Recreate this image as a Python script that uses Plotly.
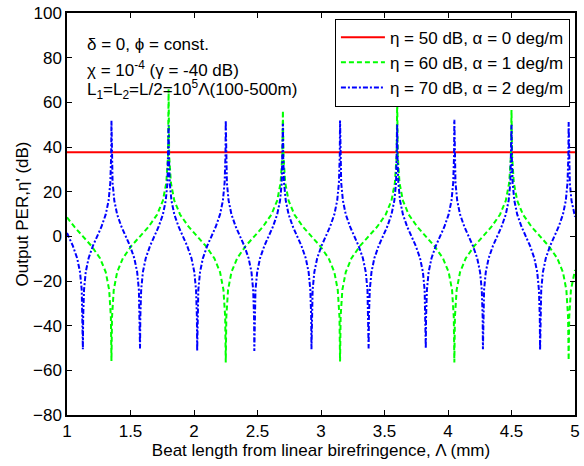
import plotly.graph_objects as go

# ---- data ----
red_x = [1.0, 5.0]
red_y = [37.6, 37.6]

green_x = [
    1.0, 1.0575, 1.125, 1.1925, 1.26, 1.305, 1.332, 1.3455,
    1.35, 1.3545, 1.368, 1.395, 1.44, 1.5075, 1.575, 1.6425, 1.71, 1.755, 1.782, 1.7955,
    1.8, 1.8045, 1.818, 1.845, 1.89, 1.9575, 2.025, 2.0925, 2.16, 2.205, 2.232, 2.2455,
    2.25, 2.2545, 2.268, 2.295, 2.34, 2.4075, 2.475, 2.5425, 2.61, 2.655, 2.682, 2.6955,
    2.7, 2.7045, 2.718, 2.745, 2.79, 2.8575, 2.925, 2.9925, 3.06, 3.105, 3.132, 3.1455,
    3.15, 3.1545, 3.168, 3.195, 3.24, 3.3075, 3.375, 3.4425, 3.51, 3.555, 3.582, 3.5955,
    3.6, 3.6045, 3.618, 3.645, 3.69, 3.7575, 3.825, 3.8925, 3.96, 4.005, 4.032, 4.0455,
    4.05, 4.0545, 4.068, 4.095, 4.14, 4.2075, 4.275, 4.3425, 4.41, 4.455, 4.482, 4.4955,
    4.5, 4.5045, 4.518, 4.545, 4.59, 4.6575, 4.725, 4.7925, 4.86, 4.905, 4.932, 4.9455,
    4.95, 4.9545, 4.968, 4.995, 5.0,
]
green_y = [
    8.5, 4.3, 0.0, -4.3, -9.8, -16.0, -24.0, -36.1,
    -55.8, -36.1, -24.0, -16.0, -9.8, -4.3, 0.0, 4.3, 9.8, 16.0, 24.0, 36.1,
    65.9, 36.1, 24.0, 16.0, 9.8, 4.3, 0.0, -4.3, -9.8, -16.0, -24.0, -36.1,
    -56.5, -36.1, -24.0, -16.0, -9.8, -4.3, 0.0, 4.3, 9.8, 16.0, 24.0, 36.1,
    56.3, 36.1, 24.0, 16.0, 9.8, 4.3, 0.0, -4.3, -9.8, -16.0, -24.0, -36.1,
    -56.0, -36.1, -24.0, -16.0, -9.8, -4.3, 0.0, 4.3, 9.8, 16.0, 24.0, 36.1,
    60.8, 36.1, 24.0, 16.0, 9.8, 4.3, 0.0, -4.3, -9.8, -16.0, -24.0, -36.1,
    -56.5, -36.1, -24.0, -16.0, -9.8, -4.3, 0.0, 4.3, 9.8, 16.0, 24.0, 36.1,
    56.6, 36.1, 24.0, 16.0, 9.8, 4.3, 0.0, -4.3, -9.8, -16.0, -24.0, -36.1,
    -55.5, -36.1, -24.0, -16.0, -15.1,
]

blue_x = [
    1.0, 1.0462, 1.08, 1.1025, 1.116, 1.1227,
    1.125, 1.1273, 1.134, 1.1475, 1.17, 1.2038, 1.2375, 1.2713, 1.305, 1.3275, 1.341, 1.3478,
    1.35, 1.3523, 1.359, 1.3725, 1.395, 1.4288, 1.4625, 1.4963, 1.53, 1.5525, 1.566, 1.5728,
    1.575, 1.5773, 1.584, 1.5975, 1.62, 1.6538, 1.6875, 1.7213, 1.755, 1.7775, 1.791, 1.7978,
    1.8, 1.8023, 1.809, 1.8225, 1.845, 1.8788, 1.9125, 1.9463, 1.98, 2.0025, 2.016, 2.0228,
    2.025, 2.0273, 2.034, 2.0475, 2.07, 2.1038, 2.1375, 2.1713, 2.205, 2.2275, 2.241, 2.2478,
    2.25, 2.2523, 2.259, 2.2725, 2.295, 2.3288, 2.3625, 2.3963, 2.43, 2.4525, 2.466, 2.4728,
    2.475, 2.4773, 2.484, 2.4975, 2.52, 2.5538, 2.5875, 2.6213, 2.655, 2.6775, 2.691, 2.6978,
    2.7, 2.7023, 2.709, 2.7225, 2.745, 2.7788, 2.8125, 2.8463, 2.88, 2.9025, 2.916, 2.9228,
    2.925, 2.9273, 2.934, 2.9475, 2.97, 3.0038, 3.0375, 3.0713, 3.105, 3.1275, 3.141, 3.1478,
    3.15, 3.1523, 3.159, 3.1725, 3.195, 3.2288, 3.2625, 3.2963, 3.33, 3.3525, 3.366, 3.3728,
    3.375, 3.3773, 3.384, 3.3975, 3.42, 3.4538, 3.4875, 3.5213, 3.555, 3.5775, 3.591, 3.5978,
    3.6, 3.6023, 3.609, 3.6225, 3.645, 3.6788, 3.7125, 3.7463, 3.78, 3.8025, 3.816, 3.8228,
    3.825, 3.8273, 3.834, 3.8475, 3.87, 3.9038, 3.9375, 3.9713, 4.005, 4.0275, 4.041, 4.0478,
    4.05, 4.0523, 4.059, 4.0725, 4.095, 4.1288, 4.1625, 4.1963, 4.23, 4.2525, 4.266, 4.2728,
    4.275, 4.2773, 4.284, 4.2975, 4.32, 4.3538, 4.3875, 4.4213, 4.455, 4.4775, 4.491, 4.4978,
    4.5, 4.5023, 4.509, 4.5225, 4.545, 4.5788, 4.6125, 4.6463, 4.68, 4.7025, 4.716, 4.7228,
    4.725, 4.7273, 4.734, 4.7475, 4.77, 4.8038, 4.8375, 4.8713, 4.905, 4.9275, 4.941, 4.9478,
    4.95, 4.9523, 4.959, 4.9725, 4.995, 5.0,
]
blue_y = [
    1.5, -4.3, -9.8, -16.0, -24.0, -36.1,
    -50.6, -36.1, -24.0, -16.0, -9.8, -4.3, 0.0, 4.3, 9.8, 16.0, 24.0, 36.1,
    51.9, 36.1, 24.0, 16.0, 9.8, 4.3, 0.0, -4.3, -9.8, -16.0, -24.0, -36.1,
    -50.2, -36.1, -24.0, -16.0, -9.8, -4.3, 0.0, 4.3, 9.8, 16.0, 24.0, 36.1,
    49.7, 36.1, 24.0, 16.0, 9.8, 4.3, 0.0, -4.3, -9.8, -16.0, -24.0, -36.1,
    -51.3, -36.1, -24.0, -16.0, -9.8, -4.3, 0.0, 4.3, 9.8, 16.0, 24.0, 36.1,
    51.9, 36.1, 24.0, 16.0, 9.8, 4.3, 0.0, -4.3, -9.8, -16.0, -24.0, -36.1,
    -51.3, -36.1, -24.0, -16.0, -9.8, -4.3, 0.0, 4.3, 9.8, 16.0, 24.0, 36.1,
    50.4, 36.1, 24.0, 16.0, 9.8, 4.3, 0.0, -4.3, -9.8, -16.0, -24.0, -36.1,
    -50.6, -36.1, -24.0, -16.0, -9.8, -4.3, 0.0, 4.3, 9.8, 16.0, 24.0, 36.1,
    51.9, 36.1, 24.0, 16.0, 9.8, 4.3, 0.0, -4.3, -9.8, -16.0, -24.0, -36.1,
    -50.2, -36.1, -24.0, -16.0, -9.8, -4.3, 0.0, 4.3, 9.8, 16.0, 24.0, 36.1,
    50.1, 36.1, 24.0, 16.0, 9.8, 4.3, 0.0, -4.3, -9.8, -16.0, -24.0, -36.1,
    -50.2, -36.1, -24.0, -16.0, -9.8, -4.3, 0.0, 4.3, 9.8, 16.0, 24.0, 36.1,
    52.2, 36.1, 24.0, 16.0, 9.8, 4.3, 0.0, -4.3, -9.8, -16.0, -24.0, -36.1,
    -50.6, -36.1, -24.0, -16.0, -9.8, -4.3, 0.0, 4.3, 9.8, 16.0, 24.0, 36.1,
    50.0, 36.1, 24.0, 16.0, 9.8, 4.3, 0.0, -4.3, -9.8, -16.0, -24.0, -36.1,
    -51.0, -36.1, -24.0, -16.0, -9.8, -4.3, 0.0, 4.3, 9.8, 16.0, 24.0, 36.1,
    51.2, 36.1, 24.0, 16.0, 9.8, 8.8,
]

series_names = [
    "η = 50 dB, α = 0 deg/m",
    "η = 60 dB, α = 1 deg/m",
    "η = 70 dB, α = 2 deg/m",
]
x_ticks = [1, 1.5, 2, 2.5, 3, 3.5, 4, 4.5, 5]
x_tick_text = ["1", "1.5", "2", "2.5", "3", "3.5", "4", "4.5", "5"]
y_ticks = [-80, -60, -40, -20, 0, 20, 40, 60, 80, 100]

assert len(green_x) == len(green_y)
assert len(blue_x) == len(blue_y)

FONT = "Liberation Sans, Arial, sans-serif"
FS = 17

fig = go.Figure()
fig.add_trace(go.Scatter(x=red_x, y=red_y, mode="lines", name=series_names[0],
                         line=dict(color="#ff0000", width=2)))
fig.add_trace(go.Scatter(x=green_x, y=green_y, mode="lines", name=series_names[1],
                         line=dict(color="#00ff00", width=2, dash="5px,3px")))
fig.add_trace(go.Scatter(x=blue_x, y=blue_y, mode="lines", name=series_names[2],
                         line=dict(color="#0000ff", width=2, dash="5px,2px,2px,2px")))

axis_common = dict(
    showline=True, linecolor="black", linewidth=1.5, mirror="allticks",
    ticks="inside", ticklen=5, tickcolor="black", tickwidth=1,
    showgrid=False, zeroline=False, ticklabeloverflow="allow",
    tickfont=dict(family=FONT, size=FS, color="black"),
)

fig.update_xaxes(range=[1, 5], tickvals=x_ticks, ticktext=x_tick_text,
                 title=dict(text="Beat length from linear birefringence, Λ (mm)",
                            font=dict(family=FONT, size=FS, color="black"), standoff=4),
                 **axis_common)
fig.update_yaxes(range=[-80, 100], tickvals=y_ticks,
                 title=dict(text="Output PER,η' (dB)",
                            font=dict(family=FONT, size=FS, color="black"), standoff=0),
                 **axis_common)

ann_font = dict(family=FONT, size=FS, color="black")
fig.add_annotation(x=0.035, y=0.921, xref="paper", yref="paper", xanchor="left",
                   yanchor="middle", text="δ = 0, ϕ = const.", showarrow=False, font=ann_font)
fig.add_annotation(x=0.035, y=0.860, xref="paper", yref="paper", xanchor="left",
                   yanchor="middle", text="χ = 10<sup>-4</sup> (γ = -40 dB)",
                   showarrow=False, font=ann_font)
fig.add_annotation(x=0.035, y=0.810, xref="paper", yref="paper", xanchor="left",
                   yanchor="middle",
                   text="L<sub>1</sub>=L<sub>2</sub>=L/2=10<sup>5</sup>Λ(100-500m)",
                   showarrow=False, font=ann_font)

fig.update_layout(
    width=584, height=466,
    margin=dict(l=67, r=4, t=8, b=51),
    paper_bgcolor="white", plot_bgcolor="white",
    font=dict(family=FONT, size=FS, color="black"),
    showlegend=True,
    legend=dict(x=0.990, y=0.986, xanchor="right", yanchor="top",
                bgcolor="white", bordercolor="black", borderwidth=1,
                font=dict(family=FONT, size=FS, color="black"),
                itemwidth=44, tracegroupgap=0),
)

fig.write_html("out.html")
